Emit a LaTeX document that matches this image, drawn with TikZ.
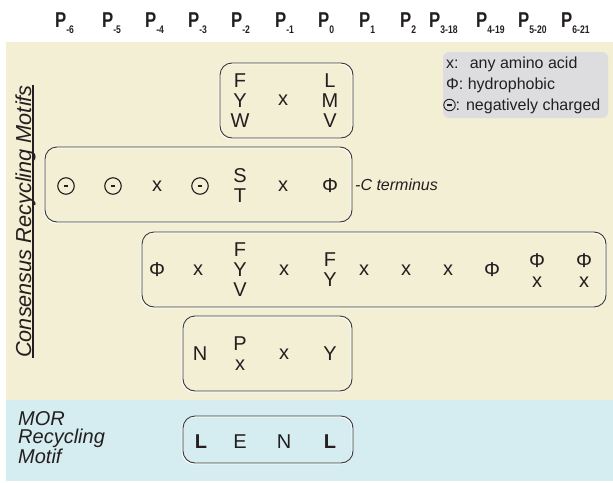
\documentclass[tikz,border=0pt]{standalone}
\usepackage{fontspec}
\setmainfont{Liberation Sans}
\newfontfamily\hdrfont[FakeStretch=0.78]{Liberation Sans Bold}
\definecolor{beige}{RGB}{242,239,212}
\definecolor{lblue}{RGB}{213,236,241}
\definecolor{ink}{RGB}{35,31,32}
\definecolor{legendgray}{RGB}{221,221,224}
\definecolor{boxline}{RGB}{55,55,55}
\newcommand{\hdrP}[1]{{\hdrfont\fontsize{21.5}{21.5}\selectfont P\raisebox{-6pt}{\fontsize{11}{11}\selectfont #1}}}
\begin{document}
\begin{tikzpicture}[x=1pt,y=-1pt,
  every node/.style={text=ink, inner sep=0pt},
  cell/.style={font=\fontsize{20}{20}\selectfont, align=center},
  hdr/.style={anchor=base west},
  motifbox/.style={draw=boxline, line width=0.9pt, rounded corners=12pt,
    preaction={draw=white, line width=1.3pt, transform canvas={xshift=-0.8pt, yshift=-0.8pt}}},
  legendbox/.style={fill=legendgray, rounded corners=6pt},
  negc/.style={circle, draw=ink, line width=1.1pt, minimum size=16.5pt,
    path picture={\draw[ink, line width=1.1pt] ([xshift=-2.2pt]path picture bounding box.center) -- ([xshift=2.2pt]path picture bounding box.center);}},
  negcs/.style={negc, minimum size=11.5pt, line width=0.9pt},
  legtext/.style={anchor=base west, font=\fontsize{16}{16}\selectfont},
  sidelabel/.style={font=\itshape\fontsize{21.7}{21.7}\selectfont}
]
\useasboundingbox (0,0) rectangle (613,482);
% backgrounds
\fill[beige] (6,42) rectangle (613,400);
\fill[lblue] (6,400) rectangle (613,481);

% header
\node[hdr] (h1) at (55,27) {\hdrP{-6}};
\node[hdr] (h2) at (102,27) {\hdrP{-5}};
\node[hdr] (h3) at (145,27) {\hdrP{-4}};
\node[hdr] (h4) at (188,27) {\hdrP{-3}};
\node[hdr] (h5) at (231,27) {\hdrP{-2}};
\node[hdr] (h6) at (275,27) {\hdrP{-1}};
\node[hdr] (h7) at (318,27) {\hdrP{0}};
\node[hdr] (h8) at (359,27) {\hdrP{1}};
\node[hdr] (h9) at (400,27) {\hdrP{2}};
\node[hdr] (h10) at (429,27) {\hdrP{3-18}};
\node[hdr] (h11) at (476,27) {\hdrP{4-19}};
\node[hdr] (h12) at (518,27) {\hdrP{5-20}};
\node[hdr] (h13) at (561,27) {\hdrP{6-21}};

% legend
\node[legendbox, minimum width=165pt, minimum height=66pt] (legend) at (525.5,85) {};
\node[legtext] (l1) at (446,68) {x:\hspace{0.7em}any amino acid};
\node[legtext] (l2) at (446,89) {Φ: hydrophobic};
\node[negcs] (l3c) at (449.5,105) {};
\node[legtext] (l3) at (455.5,110) {: negatively charged};

% boxes
\node[motifbox, minimum width=133pt, minimum height=75pt] (b1) at (286.5,100.5) {};
\node[motifbox, minimum width=307pt, minimum height=75pt] (b2) at (198.5,184.5) {};
\node[motifbox, minimum width=464pt, minimum height=75pt] (b3) at (374,269.5) {};
\node[motifbox, minimum width=169pt, minimum height=75pt] (b4) at (267.5,353.5) {};
\node[motifbox, minimum width=170pt, minimum height=47pt] (b5) at (268,439.5) {};

% row 1
\node[cell] (r1a) at (240,100.5) {F\\Y\\W};
\node[cell] (r1b) at (283,100.5) {x};
\node[cell] (r1c) at (330,100.5) {L\\M\\V};

% row 2
\node[negc] (r2a) at (66,186) {};
\node[negc] (r2b) at (113,186) {};
\node[cell] (r2c) at (157,186) {x};
\node[negc] (r2d) at (200,186) {};
\node[cell] (r2e) at (240,186) {S\\T};
\node[cell] (r2f) at (283,186) {x};
\node[cell] (r2g) at (330,186) {Φ};
\node[anchor=west, font=\itshape\fontsize{16}{16}\selectfont] (cterm) at (355,184.5) {-C terminus};

% row 3
\node[cell] (r3a) at (157,270) {Φ};
\node[cell] (r3b) at (198,270) {x};
\node[cell] (r3c) at (240,270) {F\\Y\\V};
\node[cell] (r3d) at (284,270) {x};
\node[cell] (r3e) at (330,270) {F\\Y};
\node[cell] (r3f) at (364,270) {x};
\node[cell] (r3g) at (406,270) {x};
\node[cell] (r3h) at (448,270) {x};
\node[cell] (r3i) at (492,270) {Φ};
\node[cell] (r3j) at (537,271) {Φ\\x};
\node[cell] (r3k) at (584,271) {Φ\\x};

% row 4
\node[cell] (r4a) at (200,354) {N};
\node[cell] (r4b) at (240,354) {P\\x};
\node[cell] (r4c) at (284,354) {x};
\node[cell] (r4d) at (330,354) {Y};

% row 5
\node[cell] (r5a) at (201,441.5) {\textbf{L}};
\node[cell] (r5b) at (240,441.5) {E};
\node[cell] (r5c) at (284,441.5) {N};
\node[cell] (r5d) at (330,441.5) {\textbf{L}};

% side labels
\node[sidelabel, rotate=90, anchor=base] (cons) at (31,221.5) {Consensus Recycling Motifs};
\draw[ink, line width=1.1pt] ([xshift=2pt]cons.base west) -- ([xshift=2pt]cons.base east);
\node[anchor=north west, align=left, font=\itshape\fontsize{20}{18.5}\selectfont] (mor) at (18,411) {MOR\\Recycling\\Motif};
\end{tikzpicture}
\end{document}
